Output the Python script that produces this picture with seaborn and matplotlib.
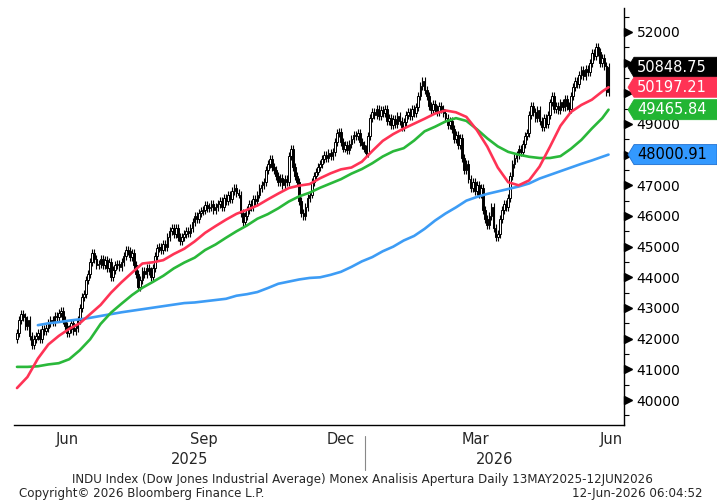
import numpy as np
import pandas as pd
import matplotlib
matplotlib.use("Agg")
import matplotlib.pyplot as plt
import matplotlib.transforms as mtransforms
from matplotlib.patches import Polygon
from matplotlib.ticker import MultipleLocator, FixedLocator
import seaborn as sns

# daily bars, 13 May 2025 - 12 Jun 2026
dates = pd.bdate_range("2025-05-13", "2026-06-12")
first_open = 42000
closes = [
    # May 2025
    42200, 42600, 42800, 42700, 42400, 42600, 42100, 41800, 42000, 42100, 42200, 42000, 42300, 42250,
    # Jun
    42350, 42500, 42600, 42550, 42750, 42700, 42850, 42900, 42600, 42400, 42200, 42300, 42500, 42250,
    42350, 42600, 43000, 43350, 43450, 43900, 44100,
    # Jul
    44500, 44800, 44600, 44400, 44450, 44600, 44400, 44550, 44300, 44500, 44000, 44250, 44400, 44450,
    44350, 44500, 44700, 44900, 44850, 44650, 44800, 44400, 44100,
    # Aug
    43700, 43900, 44200, 44100, 44300, 44200, 44000, 44300, 44700, 44950, 45000, 44900, 45100, 45000,
    45300, 45500, 45600, 45400, 45600, 45300, 45200,
    # Sep
    45300, 45400, 45500, 45450, 45600, 45800, 46000, 45900, 46100, 46150, 46200, 46350, 46250, 46300,
    46400, 46200, 46300, 46400, 46500, 46300, 46600, 46500,
    # Oct
    46700, 46550, 46800, 46900, 46750, 46700, 46100, 45800, 46000, 46200, 46400, 46300, 46550, 46500,
    46700, 46900, 47000, 47100, 47500, 47700, 47850, 47600, 47500,
    # Nov
    47300, 47100, 47250, 47000, 47200, 47100, 47950, 48200, 47600, 47300, 47100, 46500, 46100, 46000,
    46300, 46600, 46700, 47100, 47300, 47450,
    # Dec
    47600, 47700, 47850, 48000, 47900, 48050, 47950, 48100, 48400, 48700, 48750, 48400, 48200, 48300,
    48150, 48350, 48500, 48650, 48600, 48700, 48400, 48300, 48200,
    # Jan 2026
    48050, 48600, 49200, 49400, 49300, 49500, 49250, 49450, 49350, 49500, 49100, 49200, 48950, 49150,
    49000, 49250, 49100, 48900, 49050, 49300, 49400, 49250,
    # Feb
    49500, 49350, 49550, 49900, 50250, 50400, 50100, 49900, 49600, 49450, 49650, 49500, 49400, 49600,
    49500, 49350, 49200, 48950, 49100, 48850,
    # Mar
    48500, 48650, 48300, 48550, 47900, 47500, 47700, 47200, 46900, 47100, 46800, 47000, 46700, 46900,
    46200, 45900, 45700, 46000, 46300, 45600, 45300, 45400,
    # Apr
    45900, 46200, 46400, 46300, 46600, 47300, 47700, 47900, 48000, 48200, 48100, 48350, 48600, 48700,
    49300, 49600, 49400, 49200, 49450, 49100, 48900, 49200,
    # May
    49000, 49300, 49700, 49900, 49500, 49600, 49450, 49700, 49550, 49800, 49600, 49500, 49900, 50200,
    50400, 50300, 50600, 50750, 50550, 50800, 50700,
    # Jun
    51000, 51300, 51200, 51500, 51350, 51000, 51150, 50900, 50050, 50848.75,
]

# moving averages read every 5th bar (plus the last bar)
ma_step = 5
red_ma = [40390, 40750, 41350, 41810, 42090, 42320, 42500, 42800, 43100, 43500, 43840, 44150, 44450,
          44490, 44560, 44760, 44930, 45170, 45450, 45670, 45880, 46070, 46200, 46340, 46540, 46730,
          46910, 46990, 47040, 47230, 47390, 47520, 47580, 47770, 48120, 48450, 48670, 48850, 49010,
          49170, 49340, 49440, 49380, 49230, 48800, 48260, 47580, 47100, 47000, 47160, 47610, 48260,
          48940, 49390, 49620, 49790, 50060, 50197.21]
green_ma = [41080, 41080, 41100, 41160, 41200, 41330, 41620, 41980, 42480, 42850, 43140, 43420, 43660,
            43850, 44050, 44290, 44480, 44640, 44890, 45070, 45290, 45500, 45690, 45910, 46060, 46250,
            46470, 46640, 46760, 46920, 47060, 47200, 47380, 47530, 47720, 47940, 48110, 48210, 48460,
            48760, 48910, 49080, 49190, 49100, 48830, 48530, 48270, 48090, 48000, 47930, 47890, 47890,
            47950, 48190, 48480, 48850, 49190, 49465.84]
blue_ma = [np.nan, np.nan, 42440, 42500, 42540, 42590, 42630, 42680, 42740, 42800, 42860, 42910, 42960,
           43010, 43060, 43110, 43160, 43180, 43220, 43260, 43300, 43400, 43450, 43520, 43650, 43790,
           43860, 43930, 43980, 44000, 44080, 44180, 44340, 44520, 44660, 44850, 45000, 45200, 45350,
           45580, 45850, 46080, 46280, 46500, 46620, 46720, 46800, 46880, 46960, 47060, 47220, 47340,
           47460, 47580, 47700, 47810, 47930, 48000.91]

last_tags = [(closes[-1], "black", "white", "black"),
             (red_ma[-1], "#ff3355", "white", "#ff3355"),
             (green_ma[-1], "#22b533", "white", "#22b533"),
             (blue_ma[-1], "#3399ff", "black", "#1f6fd0")]
# labels that sit fully under a tag in the reference
hidden_labels = [48000, 50000, 51000]

RED, GREEN, BLUE = "#ff3355", "#2ab83a", "#3d9cf5"
WICK = 130

sns.set_style("white")
plt.rcParams["font.family"] = ["DejaVu Sans"]

W, H = 717, 503
fig = plt.figure(figsize=(W / 100, H / 100), dpi=100)
L, R, T, B = 14, 624, 8, 425
ax = fig.add_axes([L / W, 1 - B / H, (R - L) / W, (B - T) / H])

# candles
x = np.arange(len(dates))
c = np.array(closes, dtype=float)
o = np.r_[first_open, c[:-1]]
lo_b = np.minimum(o, c)
hi_b = np.maximum(o, c)
ax.vlines(x, lo_b - WICK, hi_b + WICK, color="black", lw=0.8, zorder=2)
ax.bar(x, hi_b - lo_b, bottom=lo_b, width=0.8,
       color=np.where(c >= o, "white", "black"), edgecolor="black", linewidth=0.7, zorder=2.1)

# moving averages
ma_idx = list(range(0, len(dates), ma_step)) + [len(dates) - 1]
ma = pd.DataFrame({"x": ma_idx, "red": red_ma, "green": green_ma, "blue": blue_ma})
for col, colr in [("blue", BLUE), ("green", GREEN), ("red", RED)]:
    sns.lineplot(data=ma, x="x", y=col, color=colr, lw=1.9, ax=ax, zorder=3, estimator=None)

x0, x1 = -1.43, 290.4
ax.set_xlim(x0, x1)
ax.set_ylim(39185, 52781)
ax.set_xlabel("")
ax.set_ylabel("")
for s in ["top", "left"]:
    ax.spines[s].set_visible(False)
for s in ["bottom", "right"]:
    ax.spines[s].set_color("black")
    ax.spines[s].set_linewidth(1)

# y axis on right
ax.yaxis.tick_right()
ax.yaxis.set_major_locator(MultipleLocator(1000))
ax.yaxis.set_minor_locator(MultipleLocator(500))
ax.yaxis.set_major_formatter(lambda v, p: "" if round(v) in hidden_labels else f"{v:.0f}")
ax.tick_params(axis="y", which="major", length=0, pad=9, labelsize=10, labelcolor="black")
ax.tick_params(axis="y", which="minor", length=3.5, width=0.8, color="black", direction="out")
yt = np.arange(40000, 52001, 1000)
tri = mtransforms.blended_transform_factory(ax.transAxes, ax.transData)
ax.plot(np.full(len(yt), 1 + 4 / (R - L)), yt, ls="none", marker=">", ms=6, color="black",
        transform=tri, clip_on=False, zorder=5)

# x axis: month ticks, quarter labels, years
new_month = np.r_[False, dates.month[1:] != dates.month[:-1]]
starts = np.flatnonzero(new_month)
ax.xaxis.set_major_locator(FixedLocator(starts - 0.5))
ax.set_xticklabels([])
ax.tick_params(axis="x", which="major", length=5, width=1, color="black", direction="out")
xt = mtransforms.blended_transform_factory(ax.transData, ax.transAxes)
for s in starts:
    d = dates[s]
    if d.month in (3, 6, 9, 12):
        n_full = len(pd.bdate_range(d.replace(day=1), d + pd.offsets.MonthEnd(0)))
        ax.text(s - 0.5 + n_full / 2, -0.034, d.strftime("%b"), transform=xt,
                ha="center", va="center", fontsize=10.5)
jan = starts[dates[starts].month == 1][0] - 0.5
ax.text((x0 + jan) / 2, -0.083, "2025", transform=xt, ha="center", va="center", fontsize=10.5)
ax.text((jan + x1) / 2, -0.083, "2026", transform=xt, ha="center", va="center", fontsize=10.5)
ax.plot([jan, jan], [-0.026, -0.108], color="#888888", lw=0.8, transform=xt, clip_on=False)

# last value tags
tag_tr = mtransforms.blended_transform_factory(fig.transFigure, ax.transData)
hh = 10 / ((B - T) / (52781 - 39185))
for val, face, txt, edge in last_tags:
    pts = [(628 / W, val), (634 / W, val + hh), (1.0, val + hh), (1.0, val - hh), (634 / W, val - hh)]
    ax.add_patch(Polygon(pts, closed=True, transform=tag_tr, facecolor=face, edgecolor=edge,
                         lw=0.6, clip_on=False, zorder=10))
    ax.text(637 / W, val, f"{val:.2f}", transform=tag_tr, color=txt, fontsize=10.5,
            ha="left", va="center", zorder=11, clip_on=False)

# footer
fig.text(362 / W, 1 - 480 / H,
         "INDU Index (Dow Jones Industrial Average) Monex Analisis Apertura Daily 13MAY2025-12JUN2026",
         ha="center", va="center", fontsize=8.6)
fig.text(19 / W, 1 - 494 / H, "Copyright\u00a9 2026 Bloomberg Finance L.P.", ha="left", va="center",
         fontsize=8.6)
fig.text(703 / W, 1 - 494 / H, "12-Jun-2026 06:04:52", ha="right", va="center", fontsize=8.6)

fig.savefig("out.png", dpi=100)
